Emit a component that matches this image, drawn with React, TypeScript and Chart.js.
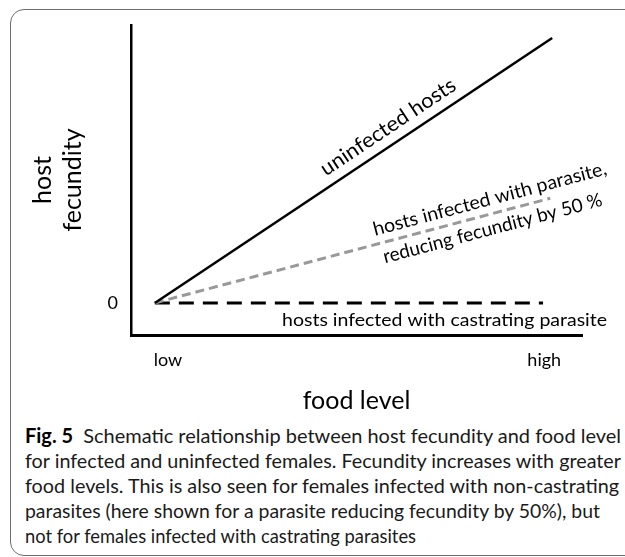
import React, { useEffect, useRef } from 'react';
import { Chart, registerables } from 'chart.js';

Chart.register(...registerables);

// ---------- data ----------
const uninfectedFood = [0, 10];
const uninfectedFecundity = [0, 10];
const parasiteFood = [0, 9.95];
const parasiteFecundity = [0, 3.95];
const castratingFood = [0, 9.77];
const castratingFecundity = [0, 0];

const xRange = [-0.6, 10.75];
const yRange = [-1.21, 10.49];
const xTickValues = [0.33, 9.8];
const xTickLabels = ['low', 'high'];
const yTickValues = [0];
const yTickLabels = ['0'];

const xTitle = 'food level';
const yTitle = ['host', 'fecundity'];

const uninfectedLabel = ['uninfected hosts'];
const parasiteLabel = ['hosts infected with parasite,', 'reducing fecundity by 50 %'];
const castratingLabel = ['hosts infected with castrating parasite'];

const captionBold = 'Fig. 5';
const captionLines = [
  '  Schematic relationship between host fecundity and food level',
  'for infected and uninfected females. Fecundity increases with greater',
  'food levels. This is also seen for females infected with non-castrating',
  'parasites (here shown for a parasite reducing fecundity by 50%), but',
  'not for females infected with castrating parasites',
];

// ---------- layout / style ----------
const FONT = 'Lato, "Open Sans", sans-serif';
const CANVAS_W = 625;
const CANVAS_H = 420;
const captionTargetWidths = [596, 596, 594, 575, 391];

// annotation placements (data space anchors, text widths in px)
const annotations = [
  { series: 0, text: uninfectedLabel[0], x: 5.87, y: 6.64, size: 21, width: 158 },
  { series: 1, text: parasiteLabel[0], x: 8.43, y: 3.92, size: 19, width: 241 },
  { series: 1, text: parasiteLabel[1], x: 8.5, y: 2.81, size: 19, width: 226 },
  { series: 2, text: castratingLabel[0], x: 7.29, y: -0.64, size: 18, width: 325 },
];

const lineLabelPlugin = {
  id: 'lineLabels',
  afterDatasetsDraw(chart: any) {
    const { ctx } = chart;
    const xs = chart.scales.x;
    const ys = chart.scales.y;
    for (const a of annotations) {
      const meta = chart.getDatasetMeta(a.series);
      const p0 = meta.data[0];
      const p1 = meta.data[meta.data.length - 1];
      const angle = Math.atan2(p1.y - p0.y, p1.x - p0.x);
      const cx = xs.getPixelForValue(a.x);
      const cy = ys.getPixelForValue(a.y);
      ctx.save();
      ctx.translate(cx, cy);
      ctx.rotate(angle);
      ctx.font = `${a.size}px ${FONT}`;
      ctx.fillStyle = '#000';
      ctx.textAlign = 'center';
      ctx.textBaseline = 'middle';
      const w = ctx.measureText(a.text).width;
      ctx.scale(a.width / w, 1);
      ctx.fillText(a.text, 0, 0);
      ctx.restore();
    }
  },
};

const toPoints = (xs: number[], ys: number[]) => xs.map((x, i) => ({ x, y: ys[i] }));

export default function App() {
  const canvasRef = useRef<HTMLCanvasElement>(null);
  const lineRefs = useRef<(HTMLSpanElement | null)[]>([]);

  useEffect(() => {
    const chart = new Chart(canvasRef.current as HTMLCanvasElement, {
      type: 'line',
      data: {
        datasets: [
          {
            label: uninfectedLabel.join(' '),
            data: toPoints(uninfectedFood, uninfectedFecundity),
            borderColor: '#000',
            borderWidth: 2.5,
            pointRadius: 0,
            fill: false,
            tension: 0,
          },
          {
            label: parasiteLabel.join(' '),
            data: toPoints(parasiteFood, parasiteFecundity),
            borderColor: '#999999',
            borderWidth: 3,
            borderDash: [9, 5],
            pointRadius: 0,
            fill: false,
            tension: 0,
          },
          {
            label: castratingLabel.join(' '),
            data: toPoints(castratingFood, castratingFecundity),
            borderColor: '#000',
            borderWidth: 3,
            borderDash: [15, 9],
            pointRadius: 0,
            fill: false,
            tension: 0,
          },
        ],
      },
      options: {
        responsive: false,
        animation: false,
        devicePixelRatio: 1,
        layout: { padding: { top: 25, right: 43, left: 0, bottom: 0 } },
        plugins: { legend: { display: false }, tooltip: { enabled: false } },
        scales: {
          x: {
            type: 'linear',
            min: xRange[0],
            max: xRange[1],
            grid: { display: false },
            border: { display: true, color: '#000', width: 3 },
            afterBuildTicks: (s: any) => {
              s.ticks = xTickValues.map((v) => ({ value: v }));
            },
            afterFit: (s: any) => {
              s.height = CANVAS_H - 335;
            },
            ticks: {
              callback: (_v: any, i: number) => xTickLabels[i],
              font: { family: FONT, size: 18 },
              color: '#000',
              padding: 6,
              maxRotation: 0,
              autoSkip: false,
            },
            title: {
              display: true,
              text: xTitle,
              color: '#000',
              font: { family: FONT, size: 25 },
              padding: { top: 0, bottom: 4 },
            },
          },
          y: {
            type: 'linear',
            min: yRange[0],
            max: yRange[1],
            grid: { display: false },
            border: { display: true, color: '#000', width: 2.5 },
            afterBuildTicks: (s: any) => {
              s.ticks = yTickValues.map((v) => ({ value: v }));
            },
            afterFit: (s: any) => {
              s.width = 131;
            },
            ticks: {
              callback: (_v: any, i: number) => yTickLabels[i],
              font: { family: FONT, size: 18 },
              color: '#000',
              padding: 5,
              autoSkip: false,
            },
            title: {
              display: true,
              text: yTitle,
              color: '#000',
              font: { family: FONT, size: 25 },
              padding: { top: 28, bottom: 0 },
            },
          },
        },
      },
      plugins: [lineLabelPlugin],
    } as any);

    lineRefs.current.forEach((el, i) => {
      if (!el) return;
      el.style.transform = '';
      const w = el.getBoundingClientRect().width;
      if (w > 0) el.style.transform = `scaleX(${captionTargetWidths[i] / w})`;
    });

    return () => chart.destroy();
  }, []);

  return (
    <div style={{ position: 'absolute', left: 0, top: 0, width: 625, height: 557, overflow: 'hidden' }}>
      <div
        style={{
          position: 'absolute',
          left: 10,
          top: 9,
          width: 700,
          height: 547,
          border: '1px solid #6e6e6e',
          borderRadius: 14,
          boxSizing: 'border-box',
        }}
      />
      <canvas
        ref={canvasRef}
        width={CANVAS_W}
        height={CANVAS_H}
        style={{ position: 'absolute', left: 0, top: 0, width: CANVAS_W, height: CANVAS_H }}
      />
      <div
        style={{
          position: 'absolute',
          left: 25,
          top: 423,
          fontFamily: FONT,
          fontSize: 20,
          lineHeight: '25px',
          color: '#1a1a1a',
        }}
      >
        {captionLines.map((line, i) => (
          <div key={i} style={{ whiteSpace: 'pre', height: 25 }}>
            <span
              ref={(el) => {
                lineRefs.current[i] = el;
              }}
              style={{ display: 'inline-block', transformOrigin: '0 0', whiteSpace: 'pre' }}
            >
              {i === 0 ? <b style={{ fontWeight: 700, color: '#000' }}>{captionBold}</b> : null}
              {line}
            </span>
          </div>
        ))}
      </div>
    </div>
  );
}
